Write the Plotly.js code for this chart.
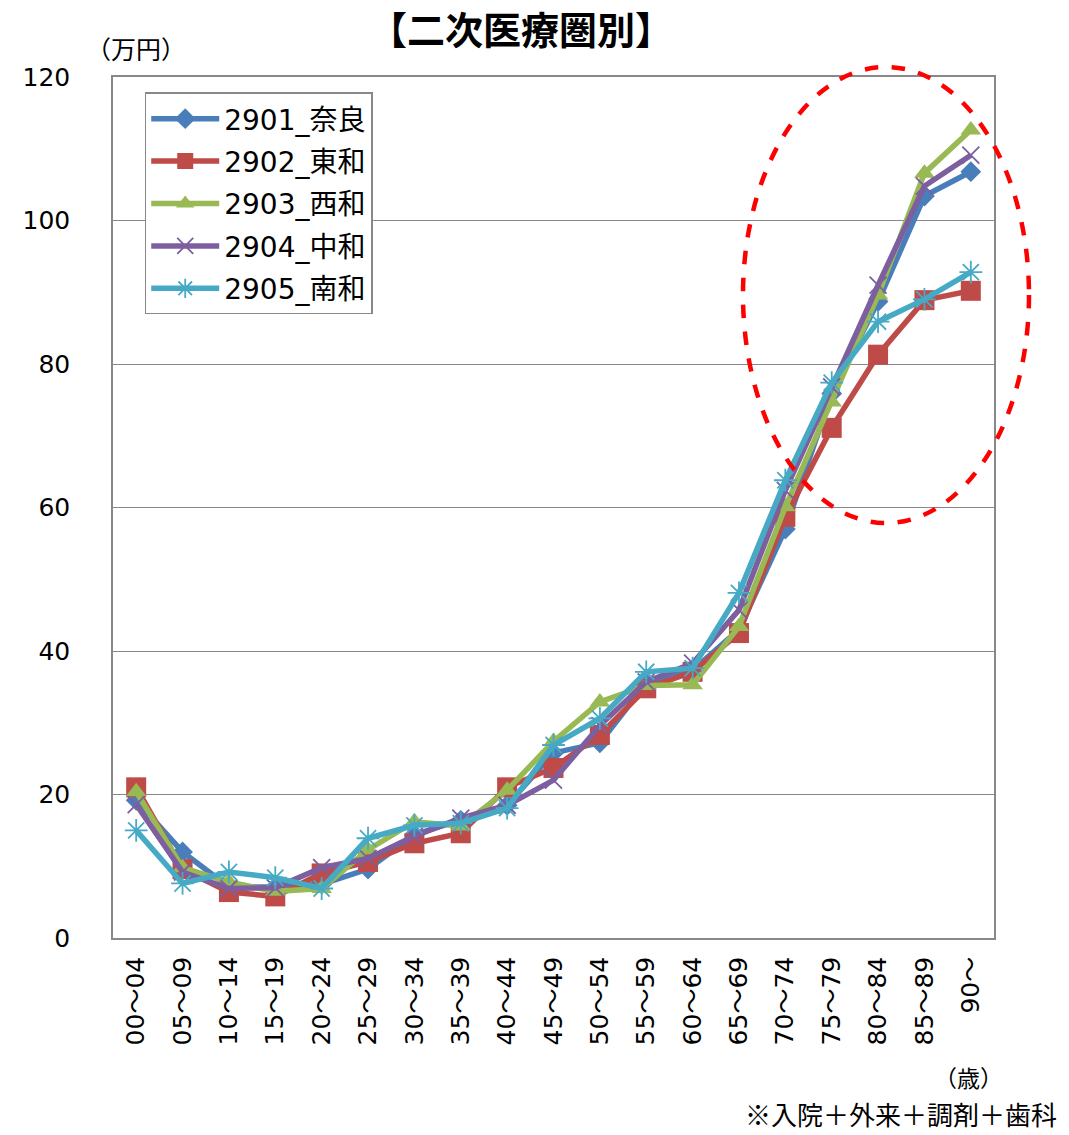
<!DOCTYPE html>
<html><head><meta charset="utf-8">
<script src="https://cdn.plot.ly/plotly-3.0.1.min.js"></script>
<style>body{margin:0;background:#fff}#chart{width:1069px;height:1135px}</style>
</head><body><div id="chart"></div>
<script>
const categories = ["00～04","05～09","10～14","15～19","20～24","25～29","30～34","35～39","40～44","45～49","50～54","55～59","60～64","65～69","70～74","75～79","80～84","85～89","90～"];
const seriesNames = ["2901_奈良","2902_東和","2903_西和","2904_中和","2905_南和"];
const nara   = [19.2, 12.0, 7.1, 7.1, 7.5,  9.6, 14.4, 16.4, 18.5, 25.8, 27.2, 35.5, 37.3, 43.0, 57.0, 75.9, 88.7, 103.4, 106.8];
const towa   = [21.0,  9.6, 6.4, 5.8, 9.0, 10.6, 13.2, 14.6, 21.0, 23.7, 28.3, 34.8, 37.1, 42.5, 58.7, 71.1, 81.3,  88.9,  90.2];
const seiwa  = [20.4,  9.8, 7.8, 6.5, 6.9, 12.3, 16.2, 15.6, 20.6, 27.4, 32.9, 35.2, 35.3, 43.4, 60.1, 74.7, 89.6, 106.6, 112.6];
const chuwa  = [18.6,  9.2, 6.9, 7.0, 9.8, 11.1, 14.2, 16.7, 18.5, 22.0, 29.6, 35.7, 38.3, 45.7, 62.4, 76.8, 91.0, 104.8, 109.1];
const nanwa  = [15.0,  7.6, 9.2, 8.4, 6.9, 13.9, 15.7, 16.0, 18.1, 26.9, 30.6, 37.1, 37.6, 48.1, 63.8, 77.4, 85.9,  89.0,  92.8];
const yTicks = [0, 20, 40, 60, 80, 100, 120];

const values = [nara, towa, seiwa, chuwa, nanwa];
const colors = ["#4A7EBB","#BE4B48","#98B954","#7D5FA0","#46AAC5"];
const symbols = ["diamond","square","triangle-up","x-thin-open","asterisk-open"];
const msizes = [16, 20, 18, 17, 19];

const traces = values.map((v, i) => ({
  type: "scatter", mode: "lines+markers",
  x: categories, y: v, name: seriesNames[i], legendgroup: "g" + i,
  line: {color: colors[i], width: 5.5},
  marker: {symbol: symbols[i], size: msizes[i], color: colors[i],
           line: {color: colors[i], width: (i >= 3 ? 1.8 : 0)}}
}));

const font = "DejaVu Sans, Verdana, Noto Sans CJK JP, sans-serif";
const jp = "Noto Sans CJK JP, sans-serif";
const layout = {
  width: 1069, height: 1135,
  margin: {l: 113, r: 75, t: 77, b: 197},
  paper_bgcolor: "#fff", plot_bgcolor: "#fff",
  font: {family: font, color: "#000", size: 22},
  showlegend: true,
  title: {text: "【二次医療圏別】", font: {family: jp, size: 38, color: "#000", weight: "bold"},
          xref: "paper", x: 0.463, xanchor: "center", yref: "container", y: 1 - 31/1135, yanchor: "middle"},
  xaxis: {type: "category", tickangle: -90, showgrid: false, showline: true, mirror: true,
          linecolor: "#888", linewidth: 1.5, ticks: "", tickfont: {size: 25, family: font},
          ticklabelstandoff: 7, range: [-0.5, 18.5]},
  yaxis: {range: [0, 120], tickvals: yTicks, showgrid: true, gridcolor: "#888", gridwidth: 1.3,
          showline: true, mirror: true, linecolor: "#888", linewidth: 1.5, ticks: "",
          tickfont: {size: 25, family: font}, ticklabelstandoff: 36, zeroline: false},
  legend: {x: 0.036, y: 0.982, xanchor: "left", yanchor: "top", bgcolor: "#fff",
           bordercolor: "#888", borderwidth: 1.5, font: {size: 28, family: font},
           itemwidth: 68, tracegroupgap: 3},
  shapes: [{type: "circle", xref: "paper", yref: "paper",
            x0: (743-113)/881, x1: (1029-113)/881, y0: (938-523)/861, y1: (938-67)/861,
            line: {color: "#FF0000", width: 4.5, dash: "dash"}}],
  annotations: [
    {text: "（万円）", xref: "paper", yref: "paper", x: (84-113)/881, y: (938-48)/861, xanchor: "left", yanchor: "middle",
     showarrow: false, font: {size: 25, family: jp}},
    {text: "（歳）", xref: "paper", yref: "paper", x: (1004-113)/881, y: (938-1077)/861, xanchor: "right", yanchor: "middle",
     showarrow: false, borderpad: 0, font: {size: 23, family: jp}},
    {text: "※入院＋外来＋調剤＋歯科", xref: "paper", yref: "paper", x: (1058-113)/881, y: (938-1113)/861, xanchor: "right", yanchor: "middle",
     showarrow: false, borderpad: 0, font: {size: 26, family: jp}}
  ]
};
Plotly.newPlot("chart", traces, layout, {displayModeBar: false});
</script></body></html>
